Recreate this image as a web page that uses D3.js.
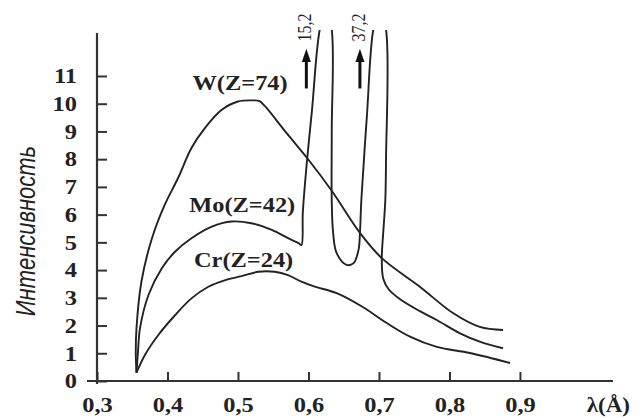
<!DOCTYPE html>
<html>
<head>
<meta charset="utf-8">
<script src="https://cdn.jsdelivr.net/npm/d3@7"></script>
<style>
  body { margin: 0; background: #fff; }
  svg { display: block; }
  .tick text { font-family: "Liberation Serif", "Times New Roman", serif; font-weight: bold; font-size: 20px; fill: #222; }
  .curve { fill: none; stroke: #222; stroke-width: 1.9; }
  .serif { font-family: "Liberation Serif", "Times New Roman", serif; fill: #222; }
</style>
</head>
<body>
<div id="chart"></div>
<script>
// SVG size
var svgWidth = 641;
var svgHeight = 418;

// tick values
var xTicks = [0.3, 0.4, 0.5, 0.6, 0.7, 0.8, 0.9];
var yTicks = [0, 1, 2, 3, 4, 5, 6, 7, 8, 9, 10, 11];

// W(Z=74) - continuous spectrum only
var wLambda    = [0.356, 0.355, 0.356, 0.363, 0.378, 0.396, 0.415, 0.434, 0.453, 0.477, 0.500, 0.520, 0.530, 0.538, 0.567, 0.600, 0.633, 0.673, 0.704, 0.758, 0.805, 0.843, 0.876];
var wIntensity = [0.3,   1.0,   1.9,   3.58,  5.15,  6.35,  7.32,  8.4,   9.12,  9.78,  10.08, 10.12, 10.1,  9.92,  9.0,   7.98,  6.86,  5.34,  4.43,  3.4,   2.45,  1.95,  1.84];

// Mo(Z=42) - with K-beta and K-alpha lines going off the top
var moLambda    = [0.356, 0.358, 0.361, 0.373, 0.392, 0.411, 0.434, 0.463, 0.491, 0.519, 0.548, 0.571, 0.586, 0.590, 0.592, 0.598, 0.605, 0.616, 0.625, 0.633, 0.633, 0.633, 0.635, 0.640, 0.654, 0.664, 0.671, 0.673, 0.675, 0.683, 0.692, 0.701, 0.710, 0.710, 0.709, 0.706, 0.704, 0.706, 0.714, 0.730, 0.758, 0.782, 0.815, 0.843, 0.876];
var moIntensity = [0.3,   1.0,   1.9,   3.1,   4.07,  4.67,  5.15,  5.57,  5.75,  5.69,  5.45,  5.15,  4.97,  4.9,   6.1,   7.97,  9.77,  12.67, 13.4,  12.67, 9.0,   6.53,  5.33,  4.61,  4.19,  4.25,  4.73,  5.33,  6.53,  9.6,   12.67, 13.4,  12.67, 8.0,   6.53,  5.33,  4.43,  3.7,   3.3,   2.95,  2.52,  2.2,   1.72,  1.42,  1.18];

// Cr(Z=24)
var crLambda    = [0.356, 0.368, 0.387, 0.411, 0.434, 0.458, 0.482, 0.505, 0.529, 0.552, 0.571, 0.590, 0.609, 0.640, 0.677, 0.711, 0.744, 0.782, 0.829, 0.886];
var crIntensity = [0.3,   0.94,  1.66,  2.38,  2.98,  3.4,   3.64,  3.78,  3.94,  3.94,  3.82,  3.58,  3.4,   3.17,  2.67,  2.09,  1.6,   1.23,  1.01,  0.65];

// curve labels
var curveNames = ["W(Z=74)", "Mo(Z=42)", "Cr(Z=24)"];
var labelLambda = [0.503, 0.506, 0.508];
var labelIntensity = [10.5, 6.1, 4.11];

// off-scale peak values
var peakText = ["15,2", "37,2"];
var peakLambda = [0.597, 0.673];

var svg = d3.select("#chart")
  .append("svg")
  .attr("width", svgWidth)
  .attr("height", svgHeight);

// scales
var x = d3.scaleLinear().domain([0.3, 1.032]).range([97, 613]);
var y = d3.scaleLinear().domain([0, 12.55]).range([381, 33]);

// stretch serif text a bit wider, like the scan
function stretch(sel, k) {
  sel.each(function() {
    var w = this.getComputedTextLength();
    d3.select(this).attr("textLength", w * k).attr("lengthAdjust", "spacingAndGlyphs");
  });
}

// clip so the peaks end at the top
svg.append("clipPath").attr("id", "plotclip")
  .append("rect")
  .attr("x", x(0.3)).attr("y", y(12.66))
  .attr("width", svgWidth - x(0.3)).attr("height", y(0) - y(12.66));

// axes
var yAxis = d3.axisLeft(y).tickValues(yTicks).tickSize(-10).tickPadding(20).tickFormat(d3.format("d"));
var xAxis = d3.axisBottom(x).tickValues(xTicks).tickSize(-9).tickPadding(17)
  .tickFormat(function(d) { return d3.format(".1f")(d).replace(".", ","); });

var gy = svg.append("g").attr("transform", "translate(" + x(0.3) + ",0)").call(yAxis);
var gx = svg.append("g").attr("transform", "translate(0," + y(0) + ")").call(xAxis);
[gx, gy].forEach(function(g) {
  g.select(".domain").remove();
  g.selectAll(".tick line").attr("stroke", "#333").attr("stroke-width", 2);
});
gy.selectAll(".tick text").attr("dy", "0.34em");
stretch(svg.selectAll(".tick text"), 1.22);

// axis lines
svg.append("line")
  .attr("x1", x(0.3)).attr("x2", x(0.3))
  .attr("y1", y(12.55)).attr("y2", y(0) + 3)
  .attr("stroke", "#333").attr("stroke-width", 2.2);
svg.append("line")
  .attr("x1", x(0.3) - 10).attr("x2", x(1.032))
  .attr("y1", y(0)).attr("y2", y(0))
  .attr("stroke", "#333").attr("stroke-width", 2.2);

// curves
var line = d3.line()
  .x(function(d) { return x(d[0]); })
  .y(function(d) { return y(d[1]); })
  .curve(d3.curveCatmullRom.alpha(0.5));

var series = [
  d3.zip(wLambda, wIntensity),
  d3.zip(moLambda, moIntensity),
  d3.zip(crLambda, crIntensity)
];

svg.append("g").attr("clip-path", "url(#plotclip)")
  .selectAll("path")
  .data(series)
  .enter()
  .append("path")
  .attr("class", "curve")
  .attr("d", line);

// curve labels
var labels = svg.selectAll("text.name")
  .data(curveNames)
  .enter()
  .append("text")
  .attr("class", "name serif")
  .attr("x", function(d, i) { return x(labelLambda[i]); })
  .attr("y", function(d, i) { return y(labelIntensity[i]); })
  .attr("text-anchor", "middle")
  .attr("font-size", 20)
  .attr("font-weight", "bold")
  .text(function(d) { return d; });
stretch(labels, 1.22);

// peak arrows and values
peakText.forEach(function(t, i) {
  var ax = x(peakLambda[i]);
  svg.append("line")
    .attr("x1", ax).attr("x2", ax)
    .attr("y1", y(10.55)).attr("y2", y(11.6))
    .attr("stroke", "#111").attr("stroke-width", 3);
  svg.append("path")
    .attr("d", "M" + ax + "," + y(11.98) + "L" + (ax - 4.5) + "," + y(11.5) + "L" + (ax + 4.5) + "," + y(11.5) + "Z")
    .attr("fill", "#111");
  svg.append("text")
    .attr("class", "serif")
    .attr("transform", "translate(" + (ax + 5) + "," + y(12.75) + ") scale(1.22,1) rotate(-90)")
    .attr("text-anchor", "middle")
    .attr("font-size", 16)
    .text(t);
});

// axis titles
svg.append("text")
  .attr("transform", "translate(35,231) scale(1.22,1) rotate(-90)")
  .attr("text-anchor", "middle")
  .attr("font-family", "'Liberation Sans', Arial, sans-serif")
  .attr("font-style", "italic")
  .attr("font-size", 22)
  .attr("fill", "#222")
  .text("Интенсивность");

var lam = svg.append("text")
  .attr("class", "serif")
  .attr("x", 630)
  .attr("y", 412)
  .attr("text-anchor", "end")
  .attr("font-size", 20)
  .attr("font-weight", "bold")
  .text("λ(Å)");
stretch(lam, 1.15);
</script>
</body>
</html>
